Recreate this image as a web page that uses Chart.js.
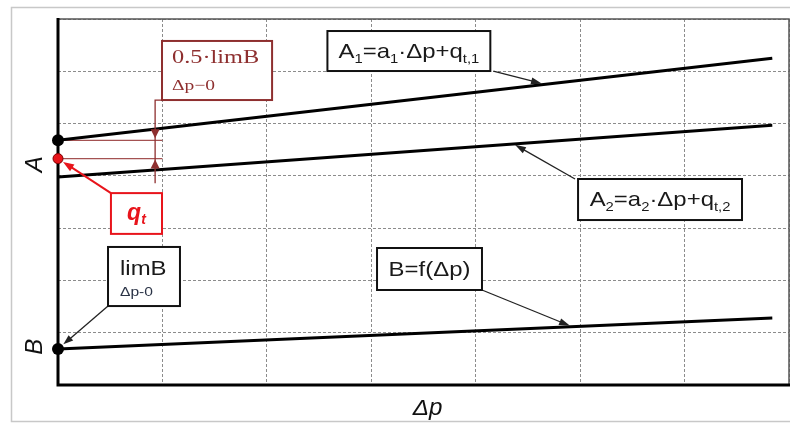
<!DOCTYPE html>
<html><head><meta charset="utf-8">
<script src="https://cdn.jsdelivr.net/npm/chart.js@4/dist/chart.umd.min.js"></script>
<style>html,body{margin:0;padding:0;background:#fff;overflow:hidden}</style>
</head><body>
<canvas id="c" width="790" height="423"></canvas>
<script>
// ---- data ----
const xTicks = [0, 1, 2, 3, 4, 5, 6, 7];
const yTicks = [0, 1, 2, 3, 4, 5, 6, 7];
const lineX = [0, 6.84];
const a1Values = [4.68, 6.25];
const a2Values = [3.98, 4.97];
const bValues = [0.69, 1.28];
const qtValue = 4.33;
const refX = [0, 1];

const pts = (xs, ys) => xs.map((x, i) => ({x, y: ys[i]}));
const interp = (ys, x) => ys[0] + (ys[1] - ys[0]) * (x - lineX[0]) / (lineX[1] - lineX[0]);

const SANS = '"Liberation Sans", Arial, sans-serif';
const SERIF = '"Liberation Serif", "DejaVu Serif", serif';
const DARKRED = '#8e2f2f';
const RED = '#e8141b';
const SX = 1.14;

function arrow(ctx, x1, y1, x2, y2, color, lw, hl, hw) {
  const ang = Math.atan2(y2 - y1, x2 - x1);
  ctx.strokeStyle = color; ctx.fillStyle = color; ctx.lineWidth = lw;
  ctx.beginPath(); ctx.moveTo(x1, y1);
  ctx.lineTo(x2 - Math.cos(ang) * hl * 0.8, y2 - Math.sin(ang) * hl * 0.8); ctx.stroke();
  ctx.beginPath();
  ctx.moveTo(x2, y2);
  ctx.lineTo(x2 - Math.cos(ang) * hl + Math.sin(ang) * hw, y2 - Math.sin(ang) * hl - Math.cos(ang) * hw);
  ctx.lineTo(x2 - Math.cos(ang) * hl - Math.sin(ang) * hw, y2 - Math.sin(ang) * hl + Math.cos(ang) * hw);
  ctx.closePath(); ctx.fill();
}
// parts: [text, size, dy, style, family]; drawn with horizontal stretch sx
function runs(ctx, parts, x0, base, color, sx, center) {
  let w = 0;
  parts.forEach(p => { ctx.font = (p[3] || '') + ' ' + p[1] + 'px ' + (p[4] || SANS); w += ctx.measureText(p[0]).width; });
  ctx.save();
  ctx.translate(center ? x0 - w * sx / 2 : x0, base);
  ctx.scale(sx, 1);
  let x = 0;
  ctx.fillStyle = color; ctx.textBaseline = 'alphabetic'; ctx.textAlign = 'left';
  parts.forEach(p => { ctx.font = (p[3] || '') + ' ' + p[1] + 'px ' + (p[4] || SANS); ctx.fillText(p[0], x, p[2]); x += ctx.measureText(p[0]).width; });
  ctx.restore();
}
function box(ctx, x0, y0, x1, y1, color, lw) {
  ctx.fillStyle = '#fff'; ctx.fillRect(x0, y0, x1 - x0, y1 - y0);
  ctx.strokeStyle = color; ctx.lineWidth = lw; ctx.strokeRect(x0, y0, x1 - x0, y1 - y0);
}

const deco = {
  id: 'deco',
  beforeDatasetsDraw(chart) {
    const {ctx, chartArea: a} = chart;
    ctx.save();
    ctx.strokeStyle = '#c8c8c8'; ctx.lineWidth = 1.5;
    ctx.strokeRect(11.5, 7.5, 780, 414);
    ctx.strokeStyle = '#555'; ctx.lineWidth = 1.5;
    ctx.beginPath(); ctx.moveTo(a.left, a.top); ctx.lineTo(a.right, a.top); ctx.lineTo(a.right, a.bottom); ctx.stroke();
    ctx.strokeStyle = '#000'; ctx.lineWidth = 3;
    ctx.beginPath(); ctx.moveTo(a.left, a.top - 1); ctx.lineTo(a.left, a.bottom); ctx.lineTo(a.right + 1, a.bottom); ctx.stroke();
    // axis titles
    ctx.fillStyle = '#111'; ctx.textAlign = 'center'; ctx.textBaseline = 'middle';
    const Y = v => chart.scales.y.getPixelForValue(v);
    ctx.font = 'italic 24px ' + SANS;
    ctx.save(); ctx.translate(35, Y(4.22)); ctx.rotate(-Math.PI / 2); ctx.fillText('A', 0, 0); ctx.restore();
    ctx.save(); ctx.translate(35, Y(0.73)); ctx.rotate(-Math.PI / 2); ctx.fillText('B', 0, 0); ctx.restore();
    ctx.save(); ctx.translate(chart.scales.x.getPixelForValue(3.54), 409); ctx.scale(1.05, 1);
    ctx.font = 'italic 23px ' + SANS; ctx.fillText('Δp', 0, 0); ctx.restore();
    ctx.restore();
  },
  afterDatasetsDraw(chart) {
    const {ctx} = chart;
    const X = v => chart.scales.x.getPixelForValue(v);
    const Y = v => chart.scales.y.getPixelForValue(v);
    ctx.save();
    ctx.lineCap = 'butt';
    // red dimension
    const vx = X(0.93);
    ctx.strokeStyle = DARKRED; ctx.lineWidth = 1.3;
    ctx.beginPath(); ctx.moveTo(X(0.996), Y(5.45)); ctx.lineTo(vx, Y(5.45)); ctx.lineTo(vx, Y(3.86)); ctx.stroke();
    ctx.fillStyle = DARKRED;
    let ty = Y(a1Values[0]) - 2;
    ctx.beginPath(); ctx.moveTo(vx, ty); ctx.lineTo(vx - 4.5, ty - 9); ctx.lineTo(vx + 4.5, ty - 9); ctx.closePath(); ctx.fill();
    ty = Y(qtValue) + 1;
    ctx.beginPath(); ctx.moveTo(vx, ty); ctx.lineTo(vx - 4.5, ty + 9); ctx.lineTo(vx + 4.5, ty + 9); ctx.closePath(); ctx.fill();
    // red box
    const rb = [X(0.996), Y(6.58), X(2.05), Y(5.45)];
    box(ctx, rb[0], rb[1], rb[2], rb[3], DARKRED, 2);
    runs(ctx, [['0.5·limB', 19, 0, '', SERIF]], rb[0] + 10, rb[1] + 22, DARKRED, 1.28, false);
    runs(ctx, [['Δp−0', 15, 0, '', SERIF]], rb[0] + 10, rb[1] + 49, DARKRED, 1.3, false);

    // qt
    const qb = [X(0.507), Y(3.67), X(0.996), Y(2.89)];
    const qdx = X(0), qdy = Y(qtValue);
    let ang = Math.atan2(qdy - qb[1], qdx - qb[0]);
    arrow(ctx, qb[0], qb[1], qdx - Math.cos(ang) * 6, qdy - Math.sin(ang) * 6, RED, 2, 11, 4);
    box(ctx, qb[0], qb[1], qb[2], qb[3], RED, 2);
    runs(ctx, [['q', 23, 0, 'italic bold'], ['t', 14, 4, 'italic bold']], (qb[0] + qb[2]) / 2, qb[1] + 27, RED, 1, true);

    // limB
    const lb = [X(0.479), Y(2.64), X(1.168), Y(1.51)];
    const bdx = X(0), bdy = Y(bValues[0]);
    ang = Math.atan2(bdy - lb[3], bdx - lb[0]);
    arrow(ctx, lb[0], lb[3], bdx - Math.cos(ang) * 7, bdy - Math.sin(ang) * 7, '#222', 1.3, 10, 3.5);
    box(ctx, lb[0], lb[1], lb[2], lb[3], '#111', 2);
    runs(ctx, [['limB', 21, 0]], lb[0] + 12, lb[1] + 28, '#1a1a1a', SX, false);
    runs(ctx, [['Δp-0', 13, 0]], lb[0] + 12, lb[1] + 49, '#2a3346', 1.2, false);

    // A1
    const a1b = [X(2.58), Y(6.77), X(4.14), Y(6.005)];
    arrow(ctx, a1b[2] + 3, a1b[3], X(4.635), Y(interp(a1Values, 4.635)) - 1, '#222', 1.3, 11, 3.5);
    box(ctx, a1b[0], a1b[1], a1b[2], a1b[3], '#111', 2);
    runs(ctx, [['A', 21, 0], ['1', 13, 5], ['=a', 21, 0], ['1', 13, 5], ['·Δp+q', 21, 0], ['t,1', 13, 5]],
      (a1b[0] + a1b[2]) / 2, a1b[1] + 27, '#1a1a1a', SX, true);

    // A2
    const a2b = [X(4.98), Y(3.94), X(6.55), Y(3.155)];
    arrow(ctx, a2b[0] - 3, a2b[1], X(4.376), Y(interp(a2Values, 4.376)) + 1, '#222', 1.3, 11, 3.5);
    box(ctx, a2b[0], a2b[1], a2b[2], a2b[3], '#111', 2);
    runs(ctx, [['A', 21, 0], ['2', 13, 5], ['=a', 21, 0], ['2', 13, 5], ['·Δp+q', 21, 0], ['t,2', 13, 5]],
      (a2b[0] + a2b[2]) / 2, a2b[1] + 27, '#1a1a1a', SX, true);

    // B
    const bb = [X(3.055), Y(2.62), X(4.06), Y(1.817)];
    arrow(ctx, bb[2], bb[3], X(4.903), Y(interp(bValues, 4.903)) - 1, '#222', 1.3, 11, 3.5);
    box(ctx, bb[0], bb[1], bb[2], bb[3], '#111', 2);
    runs(ctx, [['B=f(Δp)', 21, 0]], (bb[0] + bb[2]) / 2, bb[1] + 28, '#1a1a1a', SX, true);
    ctx.restore();
  }
};

const lineDs = (label, ys, radius) => ({
  label, data: pts(lineX, ys), showLine: true, borderColor: '#000', borderWidth: 3,
  pointRadius: [radius, 0], pointBackgroundColor: '#000', pointBorderColor: '#000', pointBorderWidth: 0,
  clip: false, order: 1
});

new Chart(document.getElementById('c'), {
  type: 'scatter',
  data: {
    datasets: [
      {label: 'refA1', data: pts(refX, [a1Values[0], a1Values[0]]), showLine: true, borderColor: '#a45252', borderWidth: 1.2, pointRadius: 0, order: 3},
      {label: 'refQt', data: pts(refX, [qtValue, qtValue]), showLine: true, borderColor: '#a45252', borderWidth: 1.2, pointRadius: 0, order: 3},
      lineDs('A1', a1Values, 6),
      lineDs('A2', a2Values, 0),
      lineDs('B', bValues, 6),
      {label: 'qt', data: [{x: 0, y: qtValue}], pointRadius: 5, pointBackgroundColor: RED, pointBorderColor: '#7a0000', pointBorderWidth: 1, clip: false, order: 0}
    ]
  },
  options: {
    responsive: false, animation: false, devicePixelRatio: 1,
    layout: {autoPadding: false, padding: {left: 58, top: 19, right: 1, bottom: 38}},
    plugins: {legend: {display: false}, tooltip: {enabled: false}},
    events: [],
    scales: {
      x: {type: 'linear', min: xTicks[0], max: xTicks[xTicks.length - 1],
        afterBuildTicks: s => { s.ticks = xTicks.map(v => ({value: v})); },
        afterFit: s => { s.height = 0; s.paddingLeft = 0; s.paddingRight = 0; },
        ticks: {display: false}, grid: {color: '#8c8c8c', lineWidth: 1, drawTicks: false},
        border: {display: false, dash: [3, 2]}},
      y: {type: 'linear', min: yTicks[0], max: yTicks[yTicks.length - 1],
        afterBuildTicks: s => { s.ticks = yTicks.map(v => ({value: v})); },
        afterFit: s => { s.width = 0; s.paddingTop = 0; s.paddingBottom = 0; },
        ticks: {display: false}, grid: {color: '#8c8c8c', lineWidth: 1, drawTicks: false},
        border: {display: false, dash: [3, 2]}}
    }
  },
  plugins: [deco]
});
</script>
</body></html>
